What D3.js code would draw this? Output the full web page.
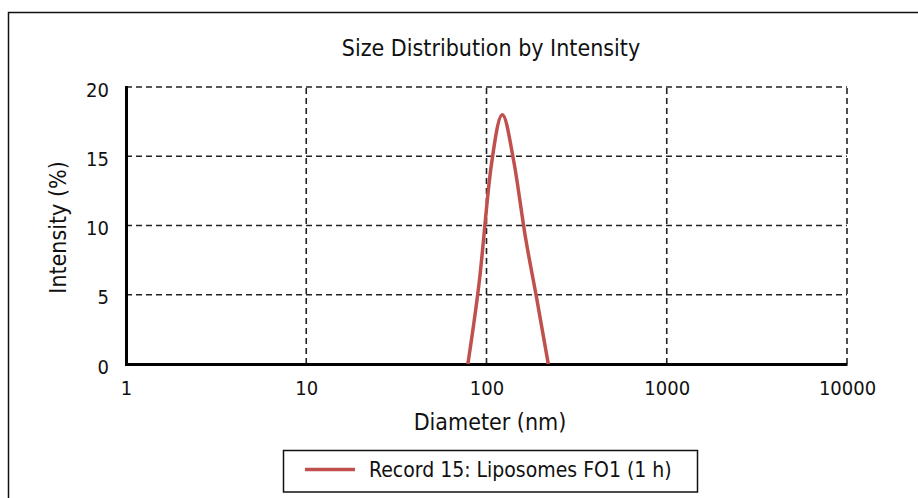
<!DOCTYPE html>
<html>
<head>
<meta charset="utf-8">
<script src="https://cdn.jsdelivr.net/npm/d3@7"></script>
<style>
  body { margin: 0; background: #fff; }
  svg text { font-family: "DejaVu Sans Condensed", "DejaVu Sans", sans-serif; font-stretch: condensed; fill: #111; }
</style>
</head>
<body>
<svg id="chart"></svg>
<script>
// size bins (nm) and intensity (%)
const diameters = [78.82, 91.28, 105.7, 122.4, 141.8, 164.2, 190.1, 220.2];
const intensities = [0, 6.0, 14.1, 18.0, 14.6, 9.2, 4.7, 0];
const xTicks = [1, 10, 100, 1000, 10000];
const yTicks = [0, 5, 10, 15, 20];
const seriesName = "Record 15: Liposomes FO1 (1 h)";

const width = 918, height = 498;
const marginTop = 87, marginRight = 71, marginBottom = 134, marginLeft = 126;

const x = d3.scaleLog().domain([1, 10000]).range([marginLeft, width - marginRight]);
const y = d3.scaleLinear().domain([0, 20]).range([height - marginBottom, marginTop]);

const svg = d3.select("#chart")
    .attr("width", width)
    .attr("height", height)
    .attr("viewBox", [0, 0, width, height]);

// outer frame (runs off the right and bottom edges)
svg.append("rect")
    .attr("x", 8.5).attr("y", 12.5)
    .attr("width", 1000).attr("height", 1000)
    .attr("fill", "none").attr("stroke", "#111").attr("stroke-width", 1.5);

svg.append("text")
    .attr("x", 491).attr("y", 56)
    .attr("text-anchor", "middle")
    .attr("font-size", 23)
    .text("Size Distribution by Intensity");

// dashed grid
const grid = svg.append("g")
    .attr("stroke", "#222")
    .attr("stroke-width", 1.6)
    .attr("stroke-dasharray", "6,4");
grid.selectAll(".h")
  .data(yTicks.filter(d => d > 0))
  .join("line")
    .attr("x1", marginLeft).attr("x2", width - marginRight)
    .attr("y1", d => y(d)).attr("y2", d => y(d));
grid.selectAll(".v")
  .data(xTicks.filter(d => d > 1))
  .join("line")
    .attr("x1", d => x(d)).attr("x2", d => x(d))
    .attr("y1", y(0)).attr("y2", marginTop);

// axes
svg.append("g")
    .attr("transform", `translate(0,${y(0)})`)
    .call(d3.axisBottom(x).tickValues(xTicks).tickFormat(d3.format("d")).tickSize(0).tickPadding(17))
    .call(g => g.select(".domain").attr("stroke", "#000").attr("stroke-width", 3))
    .call(g => g.selectAll("text").attr("font-size", 20).attr("fill", "#111"));

svg.append("g")
    .attr("transform", `translate(${marginLeft},0)`)
    .call(d3.axisLeft(y).tickValues(yTicks).tickSize(0).tickPadding(17))
    .call(g => g.select(".domain").attr("stroke", "#000").attr("stroke-width", 3).attr("stroke-linecap", "square"))
    .call(g => g.selectAll("text").attr("font-size", 20).attr("fill", "#111").attr("dy", "0.45em"));

svg.append("text")
    .attr("x", 490).attr("y", 430)
    .attr("text-anchor", "middle")
    .attr("font-size", 23)
    .text("Diameter (nm)");

svg.append("text")
    .attr("transform", `translate(66,${(marginTop + height - marginBottom) / 2 + 2}) rotate(-90)`)
    .attr("text-anchor", "middle")
    .attr("font-size", 23)
    .text("Intensity (%)");

// distribution curve
const line = d3.line()
    .x((d, i) => x(diameters[i]))
    .y(d => y(d))
    .curve(d3.curveMonotoneX);

svg.append("path")
    .datum(intensities)
    .attr("fill", "none")
    .attr("stroke", "#c0504d")
    .attr("stroke-width", 3.5)
    .attr("stroke-linejoin", "round")
    .attr("d", line);

// legend
const legend = svg.append("g");
legend.append("rect")
    .attr("x", 283.5).attr("y", 450.5)
    .attr("width", 414).attr("height", 41.5)
    .attr("fill", "#fff").attr("stroke", "#111").attr("stroke-width", 1.5);
legend.append("line")
    .attr("x1", 305).attr("x2", 355)
    .attr("y1", 469.5).attr("y2", 469.5)
    .attr("stroke", "#c0504d").attr("stroke-width", 3.5);
legend.append("text")
    .attr("x", 369).attr("y", 477)
    .attr("font-size", 21)
    .text(seriesName);
</script>
</body>
</html>
